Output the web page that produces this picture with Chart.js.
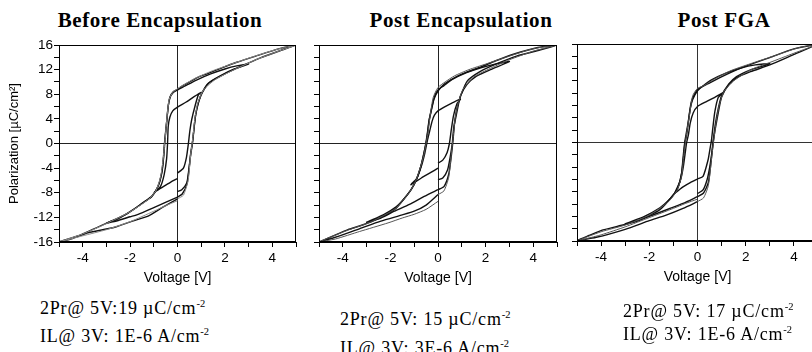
<!DOCTYPE html>
<html>
<head>
<meta charset="utf-8">
<script src="https://cdn.jsdelivr.net/npm/chart.js@4.4.1/dist/chart.umd.min.js"></script>
<style>
body { margin:0; width:812px; height:352px; overflow:hidden; background:#fff; position:relative; }
.box { position:absolute; }
.title { position:absolute; font:bold 21px "Liberation Serif"; line-height:21px; letter-spacing:0.6px; white-space:nowrap; transform:translateX(-50%); color:#000; }
.note { position:absolute; font:18px "Liberation Serif"; line-height:18px; white-space:pre; letter-spacing:0.8px; color:#000; }
.note sup { font-size:10.5px; line-height:0; vertical-align:7px; letter-spacing:0; }
</style>
</head>
<body>
<div class="title" style="left:160px;top:10px">Before Encapsulation</div>
<div class="title" style="left:461px;top:10px">Post Encapsulation</div>
<div class="title" style="left:724px;top:10px">Post FGA</div>

<div class="box" style="left:0;top:0;width:300px;height:295px"><canvas id="before"></canvas></div>
<div class="box" style="left:300px;top:0;width:265px;height:295px"><canvas id="post"></canvas></div>
<div class="box" style="left:560px;top:-1px;width:262px;height:295px"><canvas id="fga"></canvas></div>

<div class="note" style="left:40px;top:299px">2Pr@ 5V:19 µC/cm<sup>-2</sup></div>
<div class="note" style="left:40px;top:327px">IL@ 3V: 1E-6 A/cm<sup>-2</sup></div>
<div class="note" style="left:340px;top:310px">2Pr@ 5V: 15 µC/cm<sup>-2</sup></div>
<div class="note" style="left:340px;top:339px">IL@ 3V: 3E-6 A/cm<sup>-2</sup></div>
<div class="note" style="left:623px;top:302px">2Pr@ 5V: 17 µC/cm<sup>-2</sup></div>
<div class="note" style="left:623px;top:325px">IL@ 3V: 1E-6 A/cm<sup>-2</sup></div>

<script>
// tick labels
var voltTickLabels = [-4, -2, 0, 2, 4];
var polTickLabels = [-16, -12, -8, -4, 0, 4, 8, 12, 16];

// loops as [voltage V, polarization uC/cm2]
// Before encapsulation
var beforeLoop1 = [[0,-4.8],[0.25,-4],[0.38,-2.2],[0.46,0],[0.52,2],[0.6,3.9],[0.74,6.1],[0.88,7.9],[1,8.3],[0.7,7.6],[0.35,6.7],[0,5.9],[-0.2,5.3],[-0.32,4.3],[-0.39,2.8],[-0.42,0],[-0.46,-2.5],[-0.56,-5],[-0.72,-7],[-0.97,-7.9],[-0.6,-7],[-0.3,-6.3],[0,-5.7]];
var beforeLoop3 = [[0,-7.8],[0.18,-7.5],[0.39,-6.4],[0.46,-4.8],[0.55,-2],[0.63,0],[0.7,2.5],[0.76,4.5],[0.88,6.6],[1.03,8.2],[1.3,9.8],[1.8,11],[2.4,12.1],[3,12.9],[2.5,12.6],[2,12.1],[1.4,11.3],[0.8,10.3],[0.3,9.3],[0,8.7],[-0.2,8.2],[-0.32,7.4],[-0.39,6.1],[-0.46,3.4],[-0.53,0.5],[-0.58,-2],[-0.65,-4.5],[-0.8,-6.8],[-1.05,-8.4],[-1.4,-9.5],[-2.05,-11.2],[-2.5,-12.2],[-3,-12.9],[-2.5,-12.5],[-2,-11.9],[-1.66,-11.5],[-1,-10.4],[-0.53,-9.6],[0,-8.7]];
var beforeLoop5 = [[0,-8.7],[0.2,-8.2],[0.4,-6.6],[0.48,-4.5],[0.56,-1.5],[0.64,0.5],[0.71,3],[0.78,5],[0.9,6.9],[1.05,8.3],[1.35,9.9],[2,11.3],[2.72,12.6],[3.5,13.9],[4.2,14.9],[5,16],[4.3,15.4],[3.3,14.2],[2.5,13.2],[1.87,12.3],[1.3,11.4],[0.88,10.8],[0.45,9.9],[0.18,9.3],[0,8.8],[-0.18,8.4],[-0.32,7.5],[-0.39,6.1],[-0.46,3.4],[-0.55,0],[-0.6,-2.6],[-0.68,-5],[-0.85,-7.2],[-1.1,-8.7],[-1.38,-9.4],[-2.08,-11.3],[-2.96,-12.9],[-4.06,-14.8],[-5,-16],[-4.4,-15.4],[-3.78,-14.5],[-2.65,-13.6],[-1.9,-12.6],[-1.24,-11.8],[-0.6,-10.3],[0,-9]];
var beforeLoop5b = [[0,-9],[0.25,-8.4],[0.45,-6],[0.55,-2],[0.65,1],[0.73,4],[0.85,6.5],[1.1,8.7],[1.6,10.4],[2.4,12],[3.3,13.6],[4.2,14.9],[5,16],[4.2,15.3],[3.2,14.1],[2.2,12.8],[1.4,11.7],[0.7,10.5],[0.25,9.5],[0,8.9],[-0.2,8.3],[-0.35,7.2],[-0.45,4],[-0.54,0],[-0.62,-3],[-0.72,-5.5],[-0.9,-7.6],[-1.2,-9],[-2,-11.1],[-3,-13],[-4,-14.7],[-5,-16],[-4,-15],[-3,-14],[-2,-12.7],[-1,-11],[-0.5,-10.1],[0,-9.3]];

// Post encapsulation
var postLoop1 = [[0,-3.2],[0.2,-2.7],[0.38,-1.5],[0.48,0],[0.55,2],[0.65,4.5],[0.8,6.5],[0.94,7.2],[0.6,6.6],[0.3,6],[0,5.3],[-0.15,4.6],[-0.25,3.6],[-0.35,2],[-0.44,0.6],[-0.55,-1.5],[-0.7,-3.7],[-0.9,-5.7],[-1.14,-6.7],[-0.7,-5.6],[-0.3,-4.7],[0,-4]];
var postLoop3 = [[0,-5.9],[0.2,-5.6],[0.4,-4.3],[0.52,-2],[0.6,0],[0.66,2.5],[0.73,3.9],[0.84,6],[0.94,7.7],[1.22,9.6],[1.6,10.9],[2.2,12],[3,13.3],[2.4,12.9],[1.8,12.3],[1.2,11.5],[0.6,10.4],[0.25,9.4],[0,8.7],[-0.15,7.6],[-0.3,5.2],[-0.37,3.7],[-0.45,1.3],[-0.5,0],[-0.6,-1.7],[-0.72,-3.7],[-0.9,-5.8],[-1.13,-7.5],[-1.45,-9.1],[-1.76,-10.3],[-2.3,-11.6],[-3,-12.8],[-2.4,-12.1],[-1.83,-11],[-1.2,-9.9],[-0.58,-8.6],[0,-7.5]];
var postLoop5 = [[0,-7.5],[0.25,-7],[0.45,-5],[0.56,-2],[0.63,0.5],[0.7,3.5],[0.8,5.8],[0.96,7.8],[1.22,10.1],[1.78,11.7],[2.5,13],[3.3,14.2],[4.2,15.1],[5,16],[4.2,15.6],[3.17,14.5],[2.4,13.4],[1.78,12.4],[1.2,11.6],[0.8,10.9],[0.25,9.6],[0,8.5],[-0.17,7.2],[-0.3,5],[-0.37,3.9],[-0.45,1.6],[-0.51,0.1],[-0.6,-1.8],[-0.72,-3.7],[-0.9,-5.8],[-1.13,-7.5],[-1.45,-9.1],[-1.76,-10.5],[-2.2,-11.6],[-2.74,-12.6],[-3.3,-13.4],[-3.78,-14],[-4.4,-15],[-5,-16],[-4.2,-15.1],[-3.2,-13.7],[-2.4,-12.6],[-1.5,-11.6],[-1,-11],[-0.5,-10],[0,-8.3]];
var postLoop5b = [[0,-8.3],[0.25,-7.7],[0.45,-5.5],[0.58,-1],[0.65,1.5],[0.73,4.3],[0.85,6.6],[1.05,8.8],[1.5,10.8],[2.2,12.2],[3,13.6],[4,15],[5,16],[4,15.4],[3,14.2],[2,12.9],[1.3,12],[0.7,11],[0.3,10],[0,9.1],[-0.2,7.5],[-0.33,4.5],[-0.43,1.5],[-0.5,0],[-0.6,-2],[-0.75,-4],[-0.95,-6.2],[-1.2,-7.9],[-1.8,-10.6],[-2.8,-12.7],[-3.8,-14.1],[-5,-16],[-4.3,-15.5],[-3.3,-14.3],[-2.1,-12.9],[-1.5,-12.1],[-1,-11.5],[-0.5,-10.7],[0,-9.4]];

// Post FGA
var fgaLoop1 = [[0,-5.9],[0.23,-5.5],[0.44,-2.8],[0.52,-1],[0.58,0.4],[0.64,2.5],[0.72,5],[0.86,7.3],[1.06,8.1],[0.7,7.3],[0.35,6.6],[0,5.85],[-0.18,4.8],[-0.3,3.2],[-0.38,1.2],[-0.45,0],[-0.52,-2],[-0.6,-4.2],[-0.72,-6.3],[-0.94,-8.2],[-0.6,-7.2],[-0.3,-6.5],[0,-5.95]];
var fgaLoop3 = [[0,-8.3],[0.23,-7.7],[0.4,-6],[0.51,-3.9],[0.6,-1.5],[0.66,0.5],[0.74,3],[0.86,5.5],[1,7.6],[1.3,9.5],[1.62,10.7],[2.2,11.8],[3,12.8],[2.4,12.6],[1.8,12.1],[1.2,11.3],[0.6,10.2],[0.2,9.1],[0,8.4],[-0.2,7],[-0.3,5.5],[-0.38,3.3],[-0.46,1],[-0.52,0],[-0.58,-2.5],[-0.66,-5],[-0.78,-7],[-0.94,-8.2],[-1.25,-9.6],[-1.56,-10.6],[-2.2,-12],[-3,-13.2],[-2.4,-12.6],[-1.8,-11.7],[-1.2,-10.8],[-0.6,-9.9],[0,-8.8]];
var fgaLoop5 = [[0,-8.8],[0.25,-8.2],[0.45,-6.5],[0.58,-2.5],[0.65,0],[0.75,2.5],[0.86,4.8],[1,7.4],[1.3,9.4],[1.62,10.5],[2.2,11.5],[3,12.6],[4,14.3],[5,16],[4,15.2],[3,13.8],[2,12.4],[1.34,11.3],[0.51,9.7],[0,8.6],[-0.25,6.7],[-0.39,3.2],[-0.53,0],[-0.6,-2.5],[-0.66,-5],[-0.8,-7.2],[-0.94,-8.2],[-1.56,-10.9],[-2.53,-12.8],[-3.3,-13.6],[-3.92,-14.2],[-4.5,-15.1],[-5,-15.9],[-4.2,-15.4],[-3,-14.1],[-2,-12.7],[-1.3,-11.8],[-0.6,-10.7],[0,-9.6]];
var fgaLoop5b = [[0,-9.6],[0.25,-9],[0.45,-7],[0.6,-2],[0.68,0.5],[0.78,3.5],[0.9,6],[1.1,8.3],[1.5,10],[2.2,11.8],[3,13],[4,14.5],[5,16],[4.2,15.4],[3.2,14.1],[2.2,12.8],[1.4,11.7],[0.7,10.3],[0.25,9.2],[0,8.8],[-0.2,7.6],[-0.33,4.5],[-0.45,1.5],[-0.5,0],[-0.58,-2.5],[-0.66,-5.5],[-0.85,-7.8],[-1.2,-9.6],[-2,-11.8],[-3,-13.4],[-4,-14.5],[-5,-16],[-4,-15],[-3,-13.7],[-2,-12.2],[-1,-10.7],[-0.5,-9.9],[0,-9.2]];

// box round the plot area
var frame = {
    id: 'frame',
    afterDatasetsDraw: function (chart) {
        var a = chart.chartArea, c = chart.ctx;
        c.save();
        c.strokeStyle = '#000';
        c.lineWidth = 1;
        c.strokeRect(Math.round(a.left) + 0.5, Math.round(a.top) + 0.5, Math.round(a.width) - 1, Math.round(a.height) - 1);
        c.restore();
    }
};

var axisFont = { family: 'Liberation Sans', size: 13.5 };

function gridFor(zeroColor) {
    return {
        drawOnChartArea: true,
        color: function (ctx) { return ctx.tick && ctx.tick.value === 0 ? zeroColor : 'rgba(0,0,0,0)'; },
        tickColor: '#000',
        tickLength: 5,
        lineWidth: 1
    };
}

function makePanel(id, loops, opt) {
    return new Chart(document.getElementById(id), {
        type: 'scatter',
        data: {
            datasets: loops.map(function (l) {
                return {
                    data: l[0].map(function (p) { return { x: p[0], y: p[1] }; }),
                    showLine: true,
                    borderColor: l[1],
                    borderWidth: l[2],
                    pointRadius: 0,
                    tension: 0.2,
                    fill: false
                };
            })
        },
        options: {
            responsive: true,
            maintainAspectRatio: false,
            animation: false,
            events: [],
            layout: { padding: { left: 0, top: opt.top, right: opt.right, bottom: 0 } },
            plugins: { legend: { display: false }, tooltip: { enabled: false } },
            scales: {
                x: {
                    type: 'linear', min: -5, max: 5,
                    ticks: {
                        stepSize: 1, autoSkip: false, maxRotation: 0, padding: 3, color: '#000', font: axisFont,
                        callback: function (v) { return voltTickLabels.indexOf(v) >= 0 ? String(v) : ''; }
                    },
                    grid: gridFor(opt.zeroColor),
                    border: { color: '#000' },
                    title: { display: true, text: 'Voltage [V]', color: '#000', font: { family: 'Liberation Sans', size: 14, lineHeight: 1.2 }, padding: { top: 0, bottom: 8 } },
                    afterFit: function (s) { s.height = 53; }
                },
                y: {
                    type: 'linear', min: -16, max: 16,
                    ticks: {
                        stepSize: 2, autoSkip: false, padding: 1, color: '#000', font: axisFont,
                        callback: function (v) { return opt.yLabels && polTickLabels.indexOf(v) >= 0 ? String(v) : ''; }
                    },
                    grid: gridFor(opt.zeroColor),
                    border: { color: '#000' },
                    title: {
                        display: !!opt.yLabels, text: 'Polarization [µC/cm²]', color: '#000',
                        font: { family: 'Liberation Sans', size: 13, lineHeight: 1.2 }, padding: { top: 7, bottom: 0 }
                    },
                    afterFit: function (s) { s.width = opt.yWidth; }
                }
            }
        },
        plugins: [frame]
    });
}

makePanel('before', [[beforeLoop5b, '#8a8a8a', 1], [beforeLoop1, '#111', 1.4], [beforeLoop3, '#111', 1.4], [beforeLoop5, '#111', 1.4]],
    { top: 45, right: 4, yWidth: 59, yLabels: true, zeroColor: '#222' });
makePanel('post', [[postLoop5b, '#555', 1], [postLoop1, '#111', 1.4], [postLoop3, '#111', 1.4], [postLoop5, '#111', 1.4]],
    { top: 45, right: 8, yWidth: 19, yLabels: false, zeroColor: '#222' });
makePanel('fga', [[fgaLoop5b, '#555', 1], [fgaLoop1, '#111', 1.4], [fgaLoop3, '#111', 1.4], [fgaLoop5, '#111', 1.4]],
    { top: 45, right: 4, yWidth: 17, yLabels: false, zeroColor: '#333' });
</script>
</body>
</html>
